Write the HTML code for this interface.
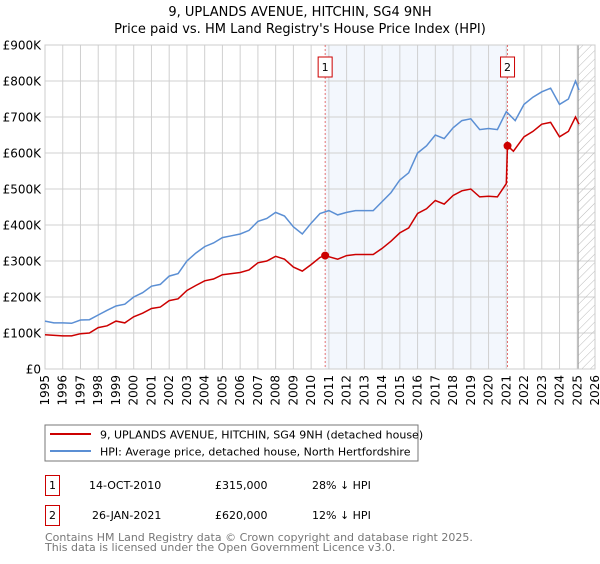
<!DOCTYPE html>
<html><head><meta charset="utf-8"><style>
body{margin:0;background:#fff;font-family:"DejaVu Sans","Liberation Sans",sans-serif;}
svg text{font-family:"DejaVu Sans","Liberation Sans",sans-serif;}
</style></head><body>
<svg id="c" width="600" height="560" xmlns="http://www.w3.org/2000/svg">
<text x="300" y="16" text-anchor="middle" font-size="13">9, UPLANDS AVENUE, HITCHIN, SG4 9NH</text>
<text x="300" y="33" text-anchor="middle" font-size="13">Price paid vs. HM Land Registry's House Price Index (HPI)</text>
<g id="plot"></g>
<rect x="45" y="425" width="373" height="36" fill="none" stroke="#777"/>
<line x1="50" y1="434" x2="91" y2="434" stroke="#cc0000" stroke-width="2"/>
<text x="100" y="438.5" font-size="11">9, UPLANDS AVENUE, HITCHIN, SG4 9NH (detached house)</text>
<line x1="50" y1="451" x2="91" y2="451" stroke="#5b8fd4" stroke-width="2"/>
<text x="100" y="455.5" font-size="11">HPI: Average price, detached house, North Hertfordshire</text>
<g>
<rect x="45.5" y="475.5" width="14" height="20" fill="none" stroke="#cc0000"/>
<text x="52.5" y="489" text-anchor="middle" font-size="11">1</text>
<text x="89" y="489" font-size="11">14-OCT-2010</text>
<text x="215" y="489" font-size="11">£315,000</text>
<text x="312" y="489" font-size="11">28% ↓ HPI</text>
</g>
<g>
<rect x="45.5" y="505.5" width="14" height="20" fill="none" stroke="#cc0000"/>
<text x="52.5" y="519" text-anchor="middle" font-size="11">2</text>
<text x="92" y="519" font-size="11">26-JAN-2021</text>
<text x="215" y="519" font-size="11">£620,000</text>
<text x="312" y="519" font-size="11">12% ↓ HPI</text>
</g>
<text x="45" y="541" font-size="11" fill="#777">Contains HM Land Registry data © Crown copyright and database right 2025.</text>
<text x="45" y="551" font-size="11" fill="#777">This data is licensed under the Open Government Licence v3.0.</text>
</svg>
<script>
const hpiYears=[1995,1995.5,1996,1996.5,1997,1997.5,1998,1998.5,1999,1999.5,2000,2000.5,2001,2001.5,2002,2002.5,2003,2003.5,2004,2004.5,2005,2005.5,2006,2006.5,2007,2007.5,2008,2008.5,2009,2009.5,2010,2010.5,2011,2011.5,2012,2012.5,2013,2013.5,2014,2014.5,2015,2015.5,2016,2016.5,2017,2017.5,2018,2018.5,2019,2019.5,2020,2020.5,2021,2021.5,2022,2022.5,2023,2023.5,2024,2024.5,2024.9,2025.1];
const hpiValues=[133,128,128,127,136,137,150,163,175,180,200,212,230,235,258,265,300,322,340,350,365,370,375,385,410,418,435,425,395,375,405,432,440,428,435,440,440,440,465,490,525,545,600,620,650,640,670,690,695,665,668,665,715,690,735,755,770,780,735,750,800,775];
const propYears=[1995,1996,1996.5,1997,1997.5,1998,1998.5,1999,1999.5,2000,2000.5,2001,2001.5,2002,2002.5,2003,2003.5,2004,2004.5,2005,2005.5,2006,2006.5,2007,2007.5,2008,2008.5,2009,2009.5,2010,2010.5,2010.79,2011.5,2012,2012.5,2013,2013.5,2014,2014.5,2015,2015.5,2016,2016.5,2017,2017.5,2018,2018.5,2019,2019.5,2020,2020.5,2021.0,2021.07,2021.4,2022,2022.5,2023,2023.5,2024,2024.5,2024.9,2025.1];
const propValues=[95,92,92,98,100,115,120,133,128,145,155,168,172,190,195,218,232,245,250,262,265,268,275,295,300,313,305,283,272,290,310,315,305,315,318,318,318,335,355,378,392,432,445,468,458,482,495,500,478,480,478,515,620,605,645,660,680,685,645,660,700,680];
const saleYears=[2010.79,2021.07];
const saleValues=[315,620];
const saleLabels=["1","2"];
const yTicks=[0,100,200,300,400,500,600,700,800,900];
const yTickLabels=["£0","£100K","£200K","£300K","£400K","£500K","£600K","£700K","£800K","£900K"];
const xTicks=[1995,1996,1997,1998,1999,2000,2001,2002,2003,2004,2005,2006,2007,2008,2009,2010,2011,2012,2013,2014,2015,2016,2017,2018,2019,2020,2021,2022,2023,2024,2025,2026];

const L=45,R=595,T=45,B=369;
const xS=y=>L+(y-1995)*(R-L)/31;
const yS=v=>B-v*(B-T)/900;
const NS="http://www.w3.org/2000/svg";
const g=document.getElementById('plot');
function mk(t,a){const e=document.createElementNS(NS,t);for(const k in a)e.setAttribute(k,a[k]);g.appendChild(e);return e;}
let e;
e=mk('rect',{x:xS(saleYears[0]),y:T,width:xS(saleYears[1])-xS(saleYears[0]),height:B-T,fill:'#eef3fc',opacity:0.7});


const defs=document.createElementNS(NS,'defs');defs.innerHTML='<pattern id="h" width="6" height="6" patternUnits="userSpaceOnUse" patternTransform="rotate(45)"><line x1="0" y1="0" x2="0" y2="6" stroke="#bbb" stroke-width="1"/></pattern>';g.appendChild(defs);
xTicks.forEach((t,i)=>{
 e=mk('line',{x1:xS(t),y1:T,x2:xS(t),y2:B,stroke:'#d0d0d0'});
 
 
 e=mk('text',{x:0,y:0,'font-size':12,'text-anchor':'end',transform:`translate(${xS(t)+4},${B+6}) rotate(-90)`});
 e.textContent=t;
 
 
});
yTicks.forEach((t,i)=>{
 e=mk('line',{x1:L,y1:yS(t),x2:R,y2:yS(t),stroke:'#d0d0d0'});
 
 
 e=mk('text',{x:L-4,y:yS(t)+4.5,'font-size':12,'text-anchor':'end'});
 e.textContent=yTickLabels[i];
 
 
});
e=mk('rect',{x:xS(2025.05),y:T,width:R-xS(2025.05),height:B-T,fill:'url(#h)',stroke:'#999'});


e=mk('rect',{x:L,y:T,width:R-L,height:B-T,fill:'none',stroke:'#ccc'});


saleYears.forEach((s,i)=>{
 e=mk('line',{x1:xS(s),y1:T,x2:xS(s),y2:B,stroke:'#e05050','stroke-dasharray':'2,2','stroke-width':0.8});
 
 
 e=mk('rect',{x:xS(s)-7,y:T+12,width:14,height:20,fill:'#fff',stroke:'#cc0000'});
 
 
 e=mk('text',{x:xS(s),y:T+26,'font-size':11,'text-anchor':'middle'});
 e.textContent=saleLabels[i];
 
 
});
e=mk('path',{d:hpiYears.map((y,i)=>(i?'L':'M')+xS(y).toFixed(1)+','+yS(hpiValues[i]).toFixed(1)).join(''),fill:'none',stroke:'#5b8fd4','stroke-width':1.5});


e=mk('path',{d:propYears.map((y,i)=>(i?'L':'M')+xS(y).toFixed(1)+','+yS(propValues[i]).toFixed(1)).join(''),fill:'none',stroke:'#cc0000','stroke-width':1.5});


saleYears.forEach((s,i)=>{
 e=mk('circle',{cx:xS(s),cy:yS(saleValues[i]),r:4,fill:'#cc0000'});
 
 
});
</script>
</body></html>
